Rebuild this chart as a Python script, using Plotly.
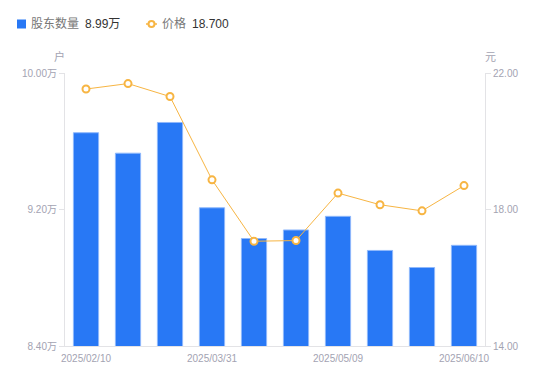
import plotly.graph_objects as go

dates = ["2025/02/10", "2025/02/20", "2025/03/10", "2025/03/31", "2025/04/10",
         "2025/04/20", "2025/05/09", "2025/05/20", "2025/05/31", "2025/06/10"]
holders_wan = [9.65, 9.53, 9.71, 9.21, 9.03, 9.08, 9.16, 8.96, 8.86, 8.99]
price = [21.53, 21.69, 21.31, 18.87, 17.07, 17.09, 18.48, 18.14, 17.96, 18.70]

left_ticks = [8.40, 9.20, 10.00]
right_ticks = [14.0, 18.0, 22.0]
x_tick_dates = ["2025/02/10", "2025/03/31", "2025/05/09", "2025/06/10"]

# page has an 8px body margin; compensate so plot area lands at page x 65..485, y 73..346
OFF = 8
W, H = 550 - OFF, 381 - OFF
L, R, T, B = 65 - OFF, 65, 73 - OFF, 35
PW, PH = W - L - R, H - T - B

def px(x):  # page pixel -> paper
    return (x - OFF - L) / PW

def py(y):
    return (H - B - (y - OFF)) / PH

FONT = "Liberation Sans, Arial, Noto Sans CJK SC, sans-serif"
BLUE = "#2878f5"
ORANGE = "#f7b543"
AXIS_TXT = "#a3a3b2"
AXIS_LINE = "#e3e3e6"

fig = go.Figure()
fig.add_trace(go.Bar(
    x=dates, y=holders_wan, name="股东数量", width=0.6,
    marker=dict(color=BLUE, line=dict(color="#8fb8fb", width=1)),
    yaxis="y", showlegend=False,
))
fig.add_trace(go.Scatter(
    x=dates, y=price, name="价格", mode="lines+markers",
    line=dict(color=ORANGE, width=1),
    marker=dict(symbol="circle", size=7, color="white", line=dict(color=ORANGE, width=2)),
    yaxis="y2", showlegend=False, cliponaxis=False,
))

fig.update_layout(
    width=W, height=H,
    margin=dict(l=L, r=R, t=T, b=B, autoexpand=False),
    paper_bgcolor="white", plot_bgcolor="white",
    font=dict(family=FONT, size=10, color=AXIS_TXT),
    xaxis=dict(
        type="category", categoryorder="array", categoryarray=dates,
        range=[-0.5, len(dates) - 0.5], autorange=False,
        tickvals=x_tick_dates, ticktext=x_tick_dates, automargin=False,
        showgrid=False, showline=True, linecolor=AXIS_LINE, linewidth=1,
        ticks="outside", ticklen=3, tickcolor="rgba(0,0,0,0)",
        tickfont=dict(size=10, color=AXIS_TXT), zeroline=False,
    ),
    yaxis=dict(
        range=[left_ticks[0], left_ticks[-1]], automargin=False,
        tickvals=left_ticks, ticktext=[f"{v:.2f}万" for v in left_ticks],
        showgrid=False, showline=True, linecolor=AXIS_LINE, linewidth=1,
        ticks="outside", ticklen=5, tickcolor=AXIS_LINE,
        tickfont=dict(size=10, color=AXIS_TXT), zeroline=False,
    ),
    yaxis2=dict(
        range=[right_ticks[0], right_ticks[-1]], overlaying="y", side="right",
        automargin=False,
        tickvals=right_ticks, ticktext=[f"{v:.2f}" for v in right_ticks],
        showgrid=False, showline=True, linecolor=AXIS_LINE, linewidth=1,
        ticks="outside", ticklen=5, tickcolor=AXIS_LINE,
        tickfont=dict(size=10, color=AXIS_TXT), zeroline=False,
    ),
    showlegend=False,
)

def note(xp, yp, text, size, color, xanchor="left"):
    fig.add_annotation(x=px(xp), y=py(yp), xref="paper", yref="paper",
                       xanchor=xanchor, yanchor="middle", text=text, showarrow=False,
                       font=dict(size=size, color=color))

# axis unit titles
note(59, 56, "户", 11, AXIS_TXT, "center")
note(490, 57, "元", 11, AXIS_TXT, "center")

# custom legend
LY = 24
fig.add_shape(type="rect", xref="paper", yref="paper",
              x0=px(17), x1=px(26), y0=py(LY + 4.5), y1=py(LY - 4.5),
              fillcolor=BLUE, line=dict(width=0))
note(29, LY, "股东数量", 12, "#777")
note(83, LY, f"{holders_wan[-1]:.2f}万", 12, "#333")
fig.add_shape(type="line", xref="paper", yref="paper",
              x0=px(146), x1=px(157), y0=py(LY), y1=py(LY),
              line=dict(color=ORANGE, width=1.5))
fig.add_shape(type="circle", xref="paper", yref="paper",
              x0=px(148.5), x1=px(154.5), y0=py(LY + 3), y1=py(LY - 3),
              fillcolor="white", line=dict(color=ORANGE, width=2))
note(160, LY, "价格", 12, "#777")
note(190, LY, f"{price[-1]:.3f}", 12, "#333")

fig.write_html("out.html")
